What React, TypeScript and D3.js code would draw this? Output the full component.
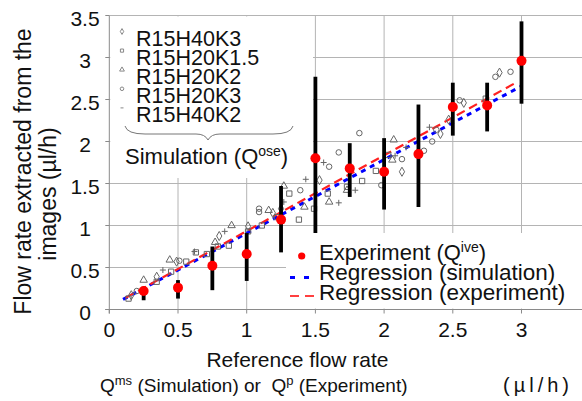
import React from "react";
import * as d3 from "d3";

// ---------- data ----------
const X_TICKS = [0, 0.5, 1, 1.5, 2, 2.5, 3];
const Y_TICKS = [0, 0.5, 1, 1.5, 2, 2.5, 3, 3.5];
const X_TICK_LABELS = ["0", "0.5", "1", "1.5", "2", "2.5", "3"];
const Y_TICK_LABELS = ["0", "0.5", "1", "1.5", "2", "2.5", "3", "3.5"];

const EXP_X = [0.25, 0.5, 0.75, 1, 1.25, 1.5, 1.75, 2, 2.25, 2.5, 2.75, 3];
const EXP_Y = [0.22, 0.26, 0.52, 0.66, 1.07, 1.8, 1.68, 1.64, 1.85, 2.41, 2.43, 2.96];
const EXP_LO = [0.11, 0.13, 0.23, 0.34, 0.68, 0.91, 1.34, 1.19, 1.22, 2.07, 2.12, 2.45];
const EXP_HI = [0.27, 0.35, 0.75, 0.91, 1.47, 2.77, 1.98, 2.04, 2.44, 2.7, 2.7, 3.43];

// regression lines (endpoints)
const REG_SIM_X = [0.1, 3.0];
const REG_SIM_Y = [0.12, 2.66];
const REG_EXP_X = [0.12, 2.97];
const REG_EXP_Y = [0.14, 2.71];

// simulation series
const H40K3_X = [0.16, 0.345, 0.49, 0.8, 1.01, 1.19, 1.25, 1.53, 2.13, 2.41, 2.47, 2.58, 2.84];
const H40K3_Y = [0.17, 0.39, 0.57, 0.875, 0.99, 1.15, 1.2, 1.54, 1.64, 2.09, 2.26, 2.46, 2.82];
const H20K15_X = [0.14, 0.345, 0.45, 0.56, 0.63, 0.71, 0.79, 0.87, 1.01, 1.11, 1.22, 1.31, 1.38, 1.49, 1.59, 1.73, 1.84, 1.94, 2.03, 2.74];
const H20K15_Y = [0.13, 0.33, 0.45, 0.57, 0.68, 0.66, 0.75, 0.76, 0.93, 1.0, 1.1, 1.38, 1.07, 1.2, 1.38, 1.46, 1.53, 1.65, 1.84, 2.51];
const H20K2_X = [0.25, 0.44, 0.77, 0.89, 1.16, 1.27, 1.42, 1.6, 1.73, 2.06, 2.07];
const H20K2_Y = [0.35, 0.59, 0.8, 1.0, 1.18, 1.47, 1.22, 1.28, 1.42, 1.78, 2.02];
const H20K3_X = [0.2, 0.51, 1.09, 1.09, 1.39, 1.6, 1.67, 1.82, 1.98, 2.13, 2.29, 2.35, 2.38, 2.55, 2.81, 2.92];
const H20K3_Y = [0.22, 0.58, 1.2, 1.16, 1.42, 1.7, 1.87, 2.1, 1.48, 1.79, 1.89, 2.0, 2.14, 2.49, 2.77, 2.83];
const H40K2_X = [0.39, 0.62, 0.84, 1.27, 1.43, 1.56, 1.67, 1.79, 2.08, 2.16, 2.33];
const H40K2_Y = [0.47, 0.69, 0.93, 1.28, 1.55, 1.75, 1.27, 1.42, 1.83, 1.93, 2.17];

const SIM_NAMES = ["R15H40K3", "R15H20K1.5", "R15H20K2", "R15H20K3", "R15H40K2"];

const FONT = "'Liberation Sans', Arial, Helvetica, sans-serif";
const W = 582;
const H = 401;

export default function App() {
  const x = d3.scaleLinear().domain([0, 3.5]).range([109.3, 590.2]);
  const y = d3.scaleLinear().domain([0, 3.5]).range([309.5, 15.5]);

  const sym = (t: d3.SymbolType, s: number) => d3.symbol().type(t).size(s)() as string;
  const diamond = sym(d3.symbolDiamond, 24);
  const square = sym(d3.symbolSquare, 28);
  const triangle = sym(d3.symbolTriangle, 24);
  const circle = sym(d3.symbolCircle, 24);
  const plus = "M-3,0H3M0,-3V3";

  const series = [
    { xs: H40K3_X, ys: H40K3_Y, path: diamond },
    { xs: H20K15_X, ys: H20K15_Y, path: square },
    { xs: H20K2_X, ys: H20K2_Y, path: triangle },
    { xs: H20K3_X, ys: H20K3_Y, path: circle },
    { xs: H40K2_X, ys: H40K2_Y, path: plus },
  ];
  const legendMarks = [
    sym(d3.symbolDiamond, 10),
    sym(d3.symbolSquare, 10),
    sym(d3.symbolTriangle, 10),
    sym(d3.symbolCircle, 10),
    "M-1.5,0H1.5",
  ];

  const line = d3
    .line<[number, number]>()
    .x((d) => x(d[0]))
    .y((d) => y(d[1]));
  const regSim = line(REG_SIM_X.map((v, i) => [v, REG_SIM_Y[i]]) as [number, number][]) as string;
  const regExp = line(REG_EXP_X.map((v, i) => [v, REG_EXP_Y[i]]) as [number, number][]) as string;

  const gridColor = "#b4b4b4";
  const axisColor = "#8a8a8a";
  const x0 = x(0);
  const y0 = y(0);

  return (
    <svg
      width={W}
      height={H}
      viewBox={`0 0 ${W} ${H}`}
      style={{ position: "absolute", left: 0, top: 0, background: "#fff" }}
      fontFamily={FONT}
    >
      <rect x={0} y={0} width={W} height={H} fill="#fff" />
      {/* grid */}
      {Y_TICKS.filter((t) => t > 0).map((t) => (
        <line key={"gy" + t} x1={x0} x2={W} y1={y(t)} y2={y(t)} stroke={gridColor} strokeWidth={1} />
      ))}
      {X_TICKS.filter((t) => t > 0).map((t) => (
        <line key={"gx" + t} x1={x(t)} x2={x(t)} y1={y(3.5)} y2={y0} stroke={gridColor} strokeWidth={1} />
      ))}

      {/* legend backgrounds */}
      <rect x={x0 + 1} y={y(3.5) + 1} width={313 - x0 - 1} height={178 - y(3.5) - 1} fill="#fff" />
      <rect x={286} y={233} width={W - 286} height={y0 - 233 - 1} fill="#fff" />

      {/* axes */}
      <line x1={x0} x2={x0} y1={y(3.5)} y2={y0 + 4} stroke={axisColor} strokeWidth={1} />
      <line x1={x0 - 4} x2={W} y1={y0} y2={y0} stroke={axisColor} strokeWidth={1} />
      {Y_TICKS.map((t) => (
        <line key={"ty" + t} x1={x0 - 4} x2={x0} y1={y(t)} y2={y(t)} stroke={axisColor} />
      ))}
      {X_TICKS.map((t) => (
        <line key={"tx" + t} x1={x(t)} x2={x(t)} y1={y0} y2={y0 + 4} stroke={axisColor} />
      ))}

      {/* tick labels */}
      {Y_TICKS.map((t, i) => (
        <text key={"ly" + t} x={85} y={y(t) + 10} fontSize={21} textAnchor="middle" fill="#111">
          {Y_TICK_LABELS[i]}
        </text>
      ))}
      {X_TICKS.map((t, i) => (
        <text key={"lx" + t} x={x(t)} y={337} fontSize={21} textAnchor="middle" fill="#111">
          {X_TICK_LABELS[i]}
        </text>
      ))}

      {/* regression lines */}
      <path d={regSim} stroke="#0000ff" strokeWidth={3} strokeDasharray="5,5" fill="none" />
      <path d={regExp} stroke="#ff2020" strokeWidth={2.2} strokeDasharray="9,5" fill="none" />

      {/* simulation points */}
      {series.map((s, si) =>
        s.xs.map((v, i) => (
          <path
            key={"s" + si + "-" + i}
            d={s.path}
            transform={`translate(${x(v)},${y(s.ys[i])})`}
            fill="none"
            stroke="#666"
            strokeWidth={1}
          />
        ))
      )}

      {/* experiment error bars & points */}
      {EXP_X.map((v, i) => (
        <line
          key={"eb" + i}
          x1={x(v)}
          x2={x(v)}
          y1={y(EXP_LO[i])}
          y2={y(EXP_HI[i])}
          stroke="#000"
          strokeWidth={3.8}
        />
      ))}
      {EXP_X.map((v, i) => (
        <circle key={"ep" + i} cx={x(v)} cy={y(EXP_Y[i])} r={5} fill="#ff0000" />
      ))}

      {/* left legend */}
      {SIM_NAMES.map((n, i) => (
        <g key={"lg" + i}>
          <path
            d={legendMarks[i]}
            transform={`translate(122,${31.5 + i * 19.1})`}
            fill="none"
            stroke="#888"
            strokeWidth={1}
          />
          <text x={136} y={45.5 + i * 19.1} fontSize={21.5} fill="#111">
            {n}
          </text>
        </g>
      ))}
      <path
        d="M125,126 Q127,134 145,134 L196,134 Q205,134 208,140 Q211,134 220,134 L273,134 Q291,134 293,126"
        fill="none"
        stroke="#777"
        strokeWidth={1}
      />
      <text x={125} y={164} fontSize={22} fill="#111">
        Simulation (Q
        <tspan fontSize={14} dy={-8}>ose</tspan>
        <tspan dy={8}>)</tspan>
      </text>

      {/* right legend */}
      <circle cx={301.7} cy={256} r={3.6} fill="#ff0000" />
      <text x={319} y={260} fontSize={22} fill="#111">
        Experiment (Q
        <tspan fontSize={14} dy={-8}>ive</tspan>
        <tspan dy={8}>)</tspan>
      </text>
      <line x1={290} x2={309} y1={277.5} y2={277.5} stroke="#0000ff" strokeWidth={3} strokeDasharray="5,9" />
      <text x={319} y={280} fontSize={22.5} fill="#111">
        Regression (simulation)
      </text>
      <line x1={290} x2={314} y1={296} y2={296} stroke="#ff4040" strokeWidth={2} strokeDasharray="9,6" />
      <text x={319} y={300} fontSize={22.5} fill="#111">
        Regression (experiment)
      </text>

      {/* y axis title */}
      <text transform="translate(31,171.5) rotate(-90)" fontSize={23} textAnchor="middle" fill="#111">
        Flow rate extracted from the
      </text>
      <text transform="translate(56,194) rotate(-90)" fontSize={23} textAnchor="middle" fill="#111">
        images (µl/h)
      </text>

      {/* x axis title */}
      <text x={297.5} y={367} fontSize={21} textAnchor="middle" fill="#111">
        Reference flow rate
      </text>
      <text x={100} y={392} fontSize={19} fill="#111" style={{ whiteSpace: "pre" }}>
        Q<tspan fontSize={13} dy={-7}>ms</tspan>
        <tspan dy={7}>{" (Simulation) or  Q"}</tspan>
        <tspan fontSize={13} dy={-7}>p</tspan>
        <tspan dy={7}>{" (Experiment)"}</tspan>
      </text>
      <text x={503} y={392} fontSize={20} fill="#111" textLength={66} lengthAdjust="spacing">
        (µl/h)
      </text>
    </svg>
  );
}
